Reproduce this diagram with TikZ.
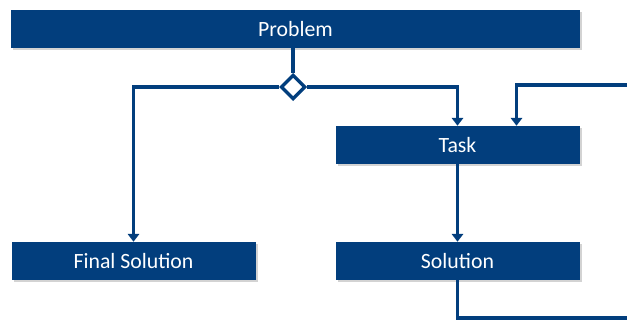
\documentclass[tikz,border=0pt]{standalone}
\usepackage{fontspec}
\setmainfont{Carlito}
\usepackage{tikz}
\usetikzlibrary{shapes.geometric}
\usetikzlibrary{positioning}
\usetikzlibrary{arrows.meta}
\usetikzlibrary{shadows}
\definecolor{darkblue}{HTML}{023E7D}
\tikzstyle{block} = [rectangle, minimum width=6.1cm, minimum height=0.95cm, inner sep=0pt, text centered, fill=darkblue, text=white, font=\fontsize{15.5}{18}\selectfont, drop shadow={opacity=0.35, shadow xshift=0.05cm, shadow yshift=-0.05cm}]
\tikzstyle{choice} = [diamond, minimum width=0.62cm, minimum height=0.62cm, inner sep=0pt, draw=darkblue, line width=2.4pt, fill=white]
\tikzstyle{link} = [draw=darkblue, line width=2.4pt]
\tikzstyle{arrow} = [link, ->, >={Triangle[length=5.5pt, width=8pt]}]

\begin{document}
\begin{tikzpicture}[node distance=2.9cm]
            \useasboundingbox (0,0) rectangle (15.675,-8.025);
            \node (problem) [block, minimum width=14.225cm] at (7.3875,-0.725) {Problem};
            \node (decide) [choice, below of=problem, yshift=1.45cm, xshift=-0.06cm] {};
            \node (task) [block, below of=problem, xshift=4.05cm] {Task};
            \node (solution) [block, below of=task] {Solution};
            \node (final) [block, left of=solution, xshift=-5.2cm] {Final Solution};
            \coordinate (loopout) at (15.675,-7.95);
            \coordinate (loopin) at (15.675,-2.125);

            \draw[link] (decide.north |- problem.south) -- (decide);
            \draw[arrow] (decide.west) -| (final.north);
            \draw[arrow] (decide.east) -| (task.north);
            \draw[arrow] (task) -- (solution);
            \draw[link] (solution.south) |- (loopout);
            \draw[arrow] (loopin) -| ([xshift=1.475cm]task.north);
        \end{tikzpicture}
\end{document}
